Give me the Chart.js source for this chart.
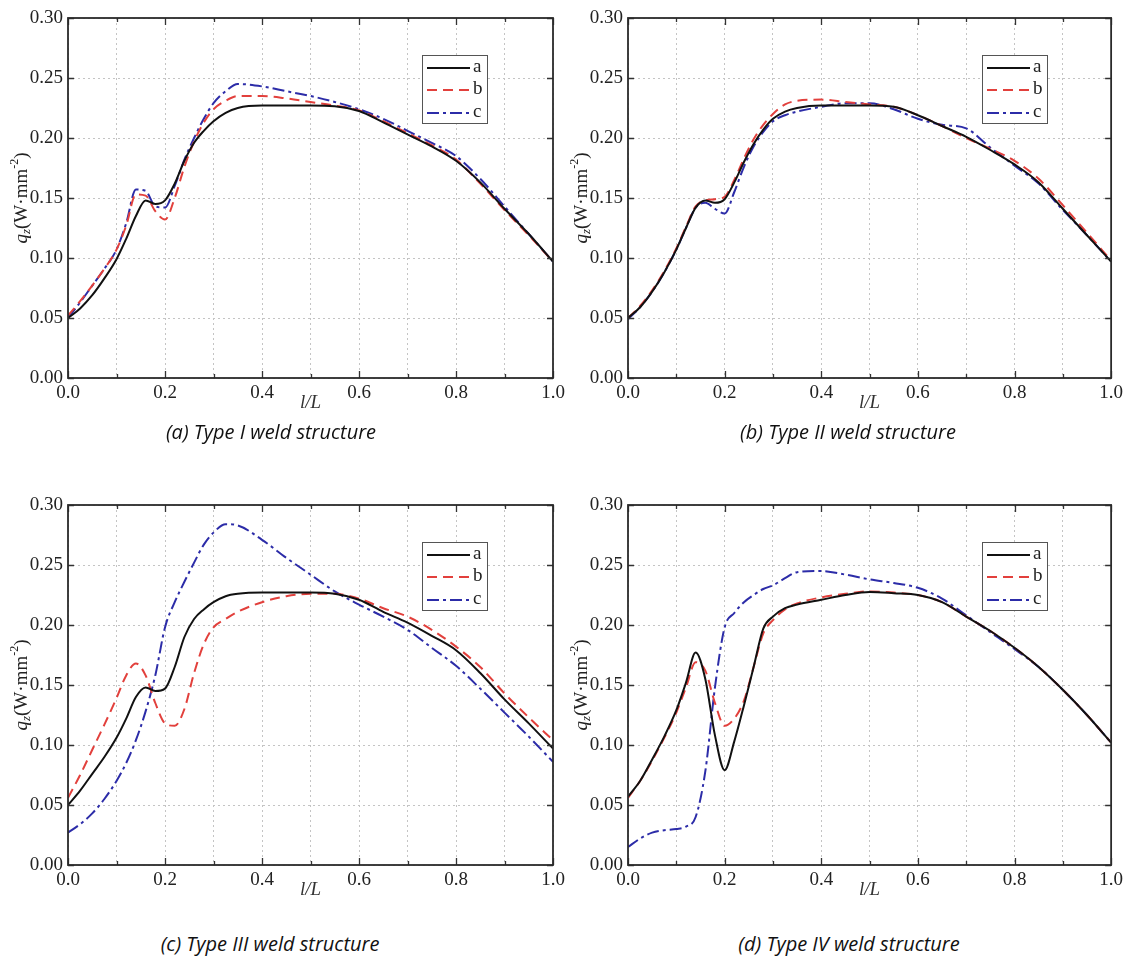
<!DOCTYPE html>
<html><head><meta charset="utf-8">
<script src="https://cdn.jsdelivr.net/npm/chart.js@4.4.0/dist/chart.umd.min.js"></script>
<style>
body{margin:0;background:#fff;width:1127px;height:960px;position:relative;overflow:hidden}
canvas{position:absolute}
.cap{position:absolute;font-family:"Open Sans";font-style:italic;font-size:20px;color:#111;transform:translate(-50%,-50%);white-space:nowrap}
</style></head><body>
<canvas id="ca" width="580" height="420" style="left:0;top:0"></canvas>
<canvas id="cb" width="567" height="420" style="left:560px;top:0"></canvas>
<canvas id="cc" width="580" height="420" style="left:0;top:487px"></canvas>
<canvas id="cd" width="567" height="420" style="left:560px;top:487px"></canvas>
<div class="cap" style="left:271px;top:431px">(a) Type I weld structure</div>
<div class="cap" style="left:848px;top:431px">(b) Type II weld structure</div>
<div class="cap" style="left:270px;top:943px">(c) Type III weld structure</div>
<div class="cap" style="left:849px;top:943px">(d) Type IV weld structure</div>
<script>
// ---- data ----
const X = [0, 0.025, 0.05, 0.075, 0.1, 0.12, 0.14, 0.16, 0.18, 0.2, 0.22, 0.24, 0.26, 0.28, 0.3, 0.325, 0.35, 0.4, 0.45, 0.5, 0.55, 0.6, 0.65, 0.7, 0.75, 0.8, 0.85, 0.9, 0.95, 1.0];
const seriesLabels = ['a', 'b', 'c'];
const xTickLabels = ['0.0', '0.2', '0.4', '0.6', '0.8', '1.0'];
const xTitle = 'l/L';

// (a) Type I
const panelA_a = [0.050,0.058,0.069,0.083,0.099,0.116,0.135,0.148,0.145,0.148,0.162,0.181,0.196,0.206,0.214,0.221,0.225,0.227,0.227,0.227,0.2265,0.2225,0.213,0.203,0.193,0.181,0.163,0.141,0.120,0.097];
const panelA_b = [0.052,0.064,0.077,0.091,0.107,0.127,0.153,0.152,0.139,0.132,0.150,0.176,0.197,0.213,0.224,0.231,0.235,0.235,0.233,0.230,0.227,0.223,0.214,0.204,0.194,0.182,0.162,0.140,0.119,0.097];
const panelA_c = [0.050,0.063,0.077,0.091,0.107,0.129,0.157,0.156,0.143,0.142,0.160,0.182,0.200,0.216,0.229,0.239,0.245,0.243,0.239,0.235,0.230,0.224,0.216,0.206,0.196,0.185,0.166,0.143,0.120,0.097];
// (b) Type II
const panelB_a = [0.050,0.059,0.072,0.088,0.107,0.125,0.142,0.148,0.146,0.149,0.163,0.180,0.195,0.207,0.216,0.222,0.225,0.227,0.227,0.227,0.226,0.219,0.210,0.201,0.190,0.178,0.163,0.141,0.119,0.097];
const panelB_b = [0.050,0.060,0.073,0.089,0.108,0.126,0.143,0.148,0.149,0.151,0.165,0.183,0.199,0.211,0.220,0.228,0.231,0.232,0.230,0.228,0.226,0.219,0.210,0.200,0.191,0.181,0.166,0.144,0.121,0.098];
const panelB_c = [0.049,0.059,0.072,0.088,0.107,0.125,0.142,0.146,0.141,0.137,0.155,0.176,0.193,0.205,0.214,0.219,0.222,0.226,0.229,0.229,0.224,0.216,0.211,0.208,0.192,0.177,0.162,0.140,0.119,0.097];
// (c) Type III
const panelC_a = [0.050,0.062,0.076,0.090,0.106,0.122,0.140,0.148,0.145,0.147,0.165,0.190,0.205,0.213,0.219,0.224,0.226,0.227,0.227,0.227,0.226,0.221,0.211,0.202,0.191,0.179,0.160,0.138,0.118,0.097];
const panelC_b = [0.056,0.075,0.096,0.117,0.139,0.158,0.168,0.158,0.135,0.118,0.116,0.130,0.160,0.184,0.198,0.205,0.211,0.219,0.224,0.226,0.226,0.222,0.214,0.207,0.196,0.182,0.165,0.143,0.123,0.104];
const panelC_c = [0.027,0.034,0.043,0.055,0.070,0.085,0.104,0.128,0.158,0.198,0.219,0.236,0.252,0.267,0.277,0.284,0.283,0.271,0.256,0.242,0.228,0.217,0.207,0.196,0.181,0.166,0.147,0.127,0.107,0.086];
// (d) Type IV
const panelD_a = [0.057,0.070,0.088,0.107,0.129,0.152,0.177,0.155,0.108,0.079,0.103,0.133,0.165,0.197,0.207,0.214,0.217,0.221,0.225,0.2275,0.2265,0.225,0.219,0.207,0.195,0.181,0.165,0.146,0.125,0.102];
const panelD_b = [0.056,0.070,0.087,0.106,0.127,0.148,0.169,0.162,0.135,0.116,0.122,0.137,0.165,0.193,0.204,0.213,0.218,0.223,0.226,0.228,0.227,0.225,0.219,0.207,0.195,0.181,0.165,0.146,0.125,0.102];
const panelD_c = [0.015,0.022,0.027,0.029,0.030,0.032,0.040,0.078,0.148,0.198,0.210,0.219,0.225,0.230,0.233,0.239,0.244,0.245,0.242,0.238,0.235,0.231,0.222,0.208,0.194,0.180,0.165,0.146,0.125,0.102];

// ---- styles ----
const styles = [
  {color:'#111111', dash:[]},
  {color:'#e2403c', dash:[10,6]},
  {color:'#2c2ca8', dash:[12,4,3,4]}
];
const SERIF = '"Liberation Serif","Times New Roman",serif';

const framePlugin = {
  id:'frame',
  afterDatasetsDraw(chart){
    const ctx = chart.ctx, a = chart.chartArea, xs = chart.scales.x, ys = chart.scales.y;
    ctx.save();
    ctx.strokeStyle = '#333'; ctx.lineWidth = 1.3; ctx.setLineDash([]);
    ctx.beginPath();
    xs.ticks.forEach(t=>{
      const px = Math.round(xs.getPixelForValue(t.value))+0.5;
      const major = Math.round(t.value*10)%2===0;
      const L = major?7:4;
      ctx.moveTo(px, a.bottom); ctx.lineTo(px, a.bottom-L);
      ctx.moveTo(px, a.top); ctx.lineTo(px, a.top+L);
    });
    ys.ticks.forEach(t=>{
      const py = Math.round(ys.getPixelForValue(t.value))+0.5;
      ctx.moveTo(a.left, py); ctx.lineTo(a.left+6, py);
      ctx.moveTo(a.right, py); ctx.lineTo(a.right-6, py);
    });
    ctx.stroke();
    ctx.lineWidth = 1.8; ctx.strokeStyle='#2a2a2a';
    ctx.strokeRect(a.left, a.top, a.right-a.left, a.bottom-a.top);
    ctx.restore();
  }
};

const legendPlugin = {
  id:'boxlegend',
  afterDatasetsDraw(chart){
    const ctx = chart.ctx, a = chart.chartArea;
    const bx = a.left + 354, by = a.top + 37, bw = 65, bh = 68;
    ctx.save();
    ctx.fillStyle = '#fff';
    ctx.fillRect(bx, by, bw, bh);
    ctx.strokeStyle = '#555'; ctx.lineWidth = 1; ctx.setLineDash([]);
    ctx.strokeRect(bx+0.5, by+0.5, bw, bh);
    const rows = [13, 35, 58];
    chart.data.datasets.forEach((ds,i)=>{
      const y = by + rows[i];
      ctx.strokeStyle = ds.borderColor; ctx.lineWidth = 2; ctx.setLineDash(ds.borderDash||[]);
      ctx.beginPath(); ctx.moveTo(bx+5, y); ctx.lineTo(bx+48, y); ctx.stroke();
      ctx.setLineDash([]);
      ctx.fillStyle = '#222'; ctx.font = '19px '+SERIF; ctx.textBaseline='middle'; ctx.textAlign='left';
      ctx.fillText(ds.label, bx+51, y-1);
    });
    ctx.restore();
  }
};

const yTitlePlugin = {
  id:'ytitle',
  afterDraw(chart){
    const ctx = chart.ctx, a = chart.chartArea;
    const cx = a.left - 46, cy = (a.top + a.bottom)/2;
    const parts = [
      {t:'q', f:'italic 19px '+SERIF, dy:0},
      {t:'z', f:'italic 13px '+SERIF, dy:5},
      {t:'(W·mm', f:'19px '+SERIF, dy:0},
      {t:'-2', f:'12px '+SERIF, dy:-7},
      {t:')', f:'19px '+SERIF, dy:0}
    ];
    ctx.save();
    ctx.translate(cx, cy); ctx.rotate(-Math.PI/2);
    ctx.fillStyle = '#222'; ctx.textBaseline = 'middle'; ctx.textAlign='left';
    let total = 0;
    parts.forEach(p=>{ctx.font=p.f; p.w = ctx.measureText(p.t).width; total += p.w;});
    let x = -total/2;
    parts.forEach(p=>{ctx.font=p.f; ctx.fillText(p.t, x, p.dy); x += p.w;});
    ctx.restore();
  }
};

function makeChart(id, seriesY, padRight){
  const datasets = seriesY.map((ys,i)=>({
    label: seriesLabels[i],
    data: X.map((x,j)=>({x:x, y:ys[j]})),
    borderColor: styles[i].color,
    borderDash: styles[i].dash,
    borderWidth: 2,
    pointRadius: 0,
    fill: false,
    cubicInterpolationMode: 'monotone'
  }));
  return new Chart(document.getElementById(id), {
    type:'line',
    data:{datasets},
    options:{
      responsive:false, animation:false, devicePixelRatio:1,
      layout:{padding:{top:18, right:padRight, left:0, bottom:6}},
      plugins:{legend:{display:false}, tooltip:{enabled:false}},
      scales:{
        x:{
          type:'linear', min:0, max:1,
          ticks:{stepSize:0.1, autoSkip:false, maxRotation:0, padding:4, color:'#222',
            font:{family:SERIF, size:19},
            callback:(v)=>{const k=Math.round(v*10); return k%2===0 ? xTickLabels[k/2] : '';}},
          grid:{color:'#c4c4c4', lineWidth:1, drawTicks:false},
          border:{display:false, dash:[2,3]},
          title:{display:true, text:xTitle, color:'#333', padding:0,
            font:{family:SERIF, size:19, style:'italic'}},
          afterFit:(s)=>{s.height=36;}
        },
        y:{
          type:'linear', min:0, max:0.3,
          ticks:{stepSize:0.05, padding:5, color:'#222', font:{family:SERIF, size:19},
            callback:(v)=>v.toFixed(2)},
          grid:{color:'#c4c4c4', lineWidth:1, drawTicks:false},
          border:{display:false, dash:[2,3]},
          afterFit:(s)=>{s.width=68;}
        }
      }
    },
    plugins:[framePlugin, legendPlugin, yTitlePlugin]
  });
}

makeChart('ca', [panelA_a, panelA_b, panelA_c], 27);
makeChart('cb', [panelB_a, panelB_b, panelB_c], 14);
makeChart('cc', [panelC_a, panelC_b, panelC_c], 27);
makeChart('cd', [panelD_a, panelD_b, panelD_c], 14);
</script>
</body></html>
